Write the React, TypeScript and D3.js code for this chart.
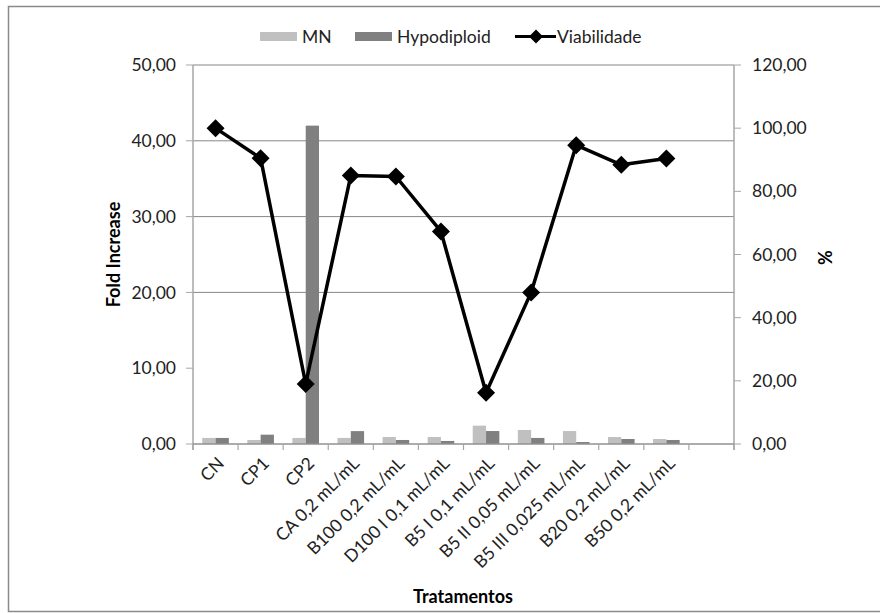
import React from "react";
import * as d3 from "d3";

const categories = [
  "CN",
  "CP1",
  "CP2",
  "CA 0,2 mL/mL",
  "B100 0,2 mL/mL",
  "D100 I 0,1 mL/mL",
  "B5 I 0,1 mL/mL",
  "B5 II 0,05 mL/mL",
  "B5 III 0,025 mL/mL",
  "B20 0,2 mL/mL",
  "B50 0,2 mL/mL",
  "",
];
const mnValues = [0.8, 0.53, 0.8, 0.8, 0.92, 0.92, 2.42, 1.85, 1.71, 0.92, 0.66];
const hypoValues = [0.8, 1.23, 42.0, 1.7, 0.53, 0.4, 1.71, 0.8, 0.26, 0.66, 0.53];
const viabilityValues = [100.0, 90.5, 19.0, 85.0, 84.7, 67.3, 16.2, 48.0, 94.6, 88.4, 90.4];
const leftTicks = [0, 10, 20, 30, 40, 50];
const leftGridTicks = [20, 30, 40, 50];
const rightTicks = [0, 20, 40, 60, 80, 100, 120];

const W = 880;
const H = 613;
const M = { left: 193, right: 734, top: 65, bottom: 444 };
const FONT = "Lato, 'Open Sans', sans-serif";
const fmt = (v: number) => v.toFixed(2).replace(".", ",");

export default function App() {
  const x = d3
    .scaleBand<string>()
    .domain(categories.map((c, i) => String(i)))
    .range([M.left, M.right])
    .paddingInner(0)
    .paddingOuter(0);
  const bw = x.bandwidth();
  const barW = bw * 0.295;
  const yL = d3.scaleLinear().domain([0, 50]).range([M.bottom, M.top]);
  const yR = d3.scaleLinear().domain([0, 120]).range([M.bottom, M.top]);
  const cx = (i: number) => (x(String(i)) as number) + bw / 2;

  const line = d3
    .line<number>()
    .x((_, i) => cx(i))
    .y((v) => yR(v));

  const diamond = (px: number, py: number, r: number) =>
    `M${px},${py - r}L${px + r},${py}L${px},${py + r}L${px - r},${py}Z`;

  const tickXs = d3.range(categories.length + 1).map((i) => M.left + i * bw);

  return (
    <svg width={W} height={H} style={{ position: "absolute", left: 0, top: 0, background: "#fff" }}>
      {/* chart frame */}
      <rect x={8.5} y={6.5} width={W + 10} height={605} fill="#fff" stroke="#8a8a8a" strokeWidth={1.5} />

      {/* gridlines */}
      {leftGridTicks.map((t) => (
        <line key={"g" + t} x1={M.left} x2={M.right} y1={yL(t)} y2={yL(t)} stroke="#878787" strokeWidth={1} />
      ))}

      {/* bars */}
      {mnValues.map((v, i) => (
        <rect key={"mn" + i} x={cx(i) - barW} y={yL(v)} width={barW} height={yL(0) - yL(v)} fill="#c0c0c0" />
      ))}
      {hypoValues.map((v, i) => (
        <rect key={"hy" + i} x={cx(i)} y={yL(v)} width={barW} height={yL(0) - yL(v)} fill="#808080" />
      ))}

      {/* axes */}
      <line x1={M.left} x2={M.left} y1={M.top} y2={M.bottom + 6} stroke="#a6a6a6" strokeWidth={1.5} />
      <line x1={M.right} x2={M.right} y1={M.top} y2={M.bottom + 6} stroke="#a6a6a6" strokeWidth={1.5} />
      <line x1={M.left} x2={M.right} y1={M.bottom} y2={M.bottom} stroke="#909090" strokeWidth={1.5} />
      {tickXs.map((tx, i) => (
        <line key={"xt" + i} x1={tx} x2={tx} y1={M.bottom} y2={M.bottom + 6} stroke="#a6a6a6" strokeWidth={1.2} />
      ))}
      {leftTicks.map((t) => (
        <g key={"lt" + t}>
          <line x1={M.left - 7} x2={M.left} y1={yL(t)} y2={yL(t)} stroke="#a6a6a6" strokeWidth={1} />
          <text x={M.left - 17} y={yL(t)} dy="0.35em" textAnchor="end" fontFamily={FONT} fontSize={17.5} fill="#222">
            {fmt(t)}
          </text>
        </g>
      ))}
      {rightTicks.map((t) => (
        <g key={"rt" + t}>
          <line x1={M.right} x2={M.right + 7} y1={yR(t)} y2={yR(t)} stroke="#a6a6a6" strokeWidth={1} />
          <text x={M.right + 18} y={yR(t)} dy="0.35em" textAnchor="start" fontFamily={FONT} fontSize={17.5} fill="#222">
            {fmt(t)}
          </text>
        </g>
      ))}

      {/* category labels */}
      {categories.map((c, i) =>
        c ? (
          <text
            key={"c" + i}
            transform={`translate(${cx(i) + 1},${M.bottom + 12}) rotate(-45)`}
            textAnchor="end"
            dy="0.7em"
            fontFamily={FONT}
            fontSize={17.5}
            fill="#222"
          >
            {c}
          </text>
        ) : null
      )}

      {/* viability line */}
      <path d={line(viabilityValues) as string} fill="none" stroke="#000" strokeWidth={3.5} strokeLinejoin="round" />
      {viabilityValues.map((v, i) => (
        <path key={"m" + i} d={diamond(cx(i), yR(v), 9)} fill="#000" />
      ))}

      {/* axis titles */}
      <text
        transform={`translate(120,${(M.top + M.bottom) / 2}) rotate(-90)`}
        textAnchor="middle"
        fontFamily={FONT}
        fontWeight="bold"
        fontSize={18}
        fill="#000"
      >
        Fold Increase
      </text>
      <text
        transform={`translate(832,${(M.top + M.bottom) / 2 + 3}) rotate(-90)`}
        textAnchor="middle"
        fontFamily={FONT}
        fontWeight="bold"
        fontSize={18}
        fill="#000"
      >
        %
      </text>
      <text x={463} y={603} textAnchor="middle" fontFamily={FONT} fontWeight="bold" fontSize={18} fill="#000">
        Tratamentos
      </text>

      {/* legend */}
      <g fontFamily={FONT} fontSize={17.5} fill="#222">
        <rect x={260} y={32} width={37} height={9} fill="#c0c0c0" />
        <text x={302} y={37} dy="0.35em">MN</text>
        <rect x={355} y={32} width={37} height={9} fill="#808080" />
        <text x={397} y={37} dy="0.35em">Hypodiploid</text>
        <line x1={515} x2={556} y1={36.5} y2={36.5} stroke="#000" strokeWidth={3} />
        <path d={diamond(536, 36.5, 7)} fill="#000" />
        <text x={557} y={37} dy="0.35em">Viabilidade</text>
      </g>
    </svg>
  );
}
